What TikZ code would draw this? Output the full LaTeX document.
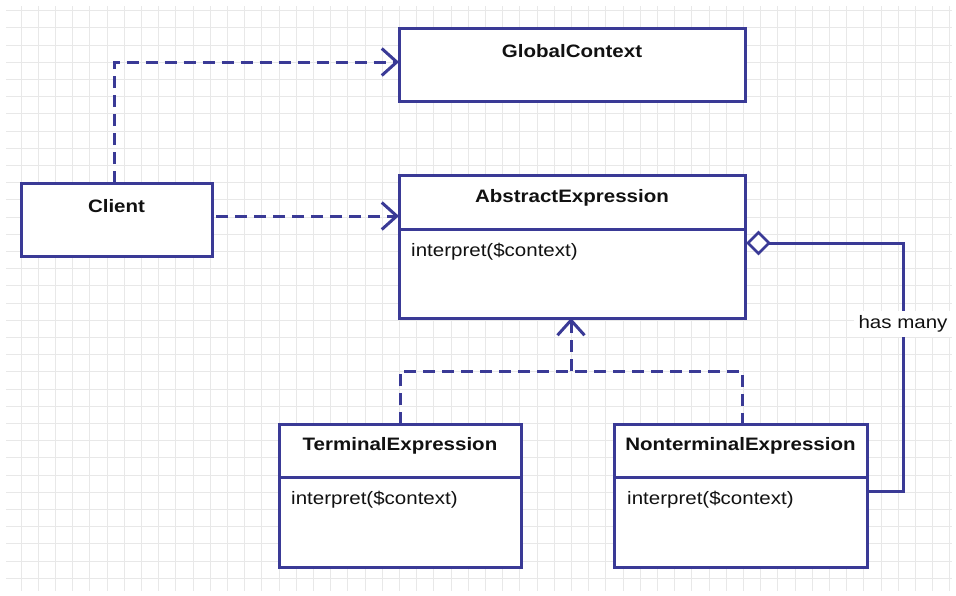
\documentclass[tikz,border=0pt]{standalone}
\usepackage{fontspec}
\setmainfont{Liberation Sans}[FakeStretch=1.14]
\usetikzlibrary{arrows.meta,shapes.geometric}
\definecolor{umlblue}{HTML}{3A3A96}
\definecolor{gridgray}{HTML}{E8E8E8}
\definecolor{txt}{HTML}{111111}
\tikzset{
  umlbox/.style={draw=umlblue, line width=3pt, fill=white, rectangle, outer sep=0pt, inner sep=0pt},
  boxline/.style={draw=umlblue, line width=3pt},
  titletext/.style={font=\fontsize{18}{21}\selectfont\bfseries, text=txt, inner sep=0pt},
  optext/.style={font=\fontsize{18}{21}\selectfont, text=txt, inner sep=0pt, anchor=west},
  dep/.style={draw=umlblue, line width=3pt, dash pattern=on 12pt off 7pt},
  openarrow/.style={-{Straight Barb[length=15pt,width=27pt]}},
  lbl/.style={font=\fontsize{18}{21}\selectfont, text=txt, fill=white, inner sep=5pt},
}
\begin{document}
\begin{tikzpicture}[x=1pt,y=-1pt]
\useasboundingbox (0,0) rectangle (956,595);
\fill[white] (0,0) rectangle (956,595);
% grid
\foreach \i in {0,...,55} {
  \pgfmathsetmacro{\gx}{3.8+17.2*\i}
  \ifdim\gx pt>5pt \ifdim\gx pt<952pt
    \draw[gridgray, line width=1pt] (\gx,6) -- (\gx,591);
  \fi\fi
}
\foreach \i in {0,...,34} {
  \pgfmathsetmacro{\gy}{10.6+17.2*\i}
  \ifdim\gy pt<591pt
    \draw[gridgray, line width=1pt] (6,\gy) -- (952,\gy);
  \fi
}
% boxes
\node[umlbox, minimum width=346pt, minimum height=73pt] (gc) at (572,64.5) {};
\node[umlbox, minimum width=191pt, minimum height=73pt] (cl) at (116.5,219.5) {};
\node[umlbox, minimum width=346pt, minimum height=143pt] (ae) at (572,246.5) {};
\node[umlbox, minimum width=242pt, minimum height=143pt] (te) at (400,495.5) {};
\node[umlbox, minimum width=253pt, minimum height=143pt] (nt) at (740.5,495.5) {};
% titles
\node[titletext] (gct) at ([yshift=-23pt]gc.north) {GlobalContext};
\node[titletext] (clt) at ([yshift=-23pt]cl.north) {Client};
\node[titletext] (aet) at ([yshift=-23pt]ae.north) {AbstractExpression};
\node[titletext] (tet) at ([yshift=-22pt]te.north) {TerminalExpression};
\node[titletext] (ntt) at ([yshift=-22pt]nt.north) {NonterminalExpression};
% dividers
\draw[boxline] ([yshift=-54pt]ae.north west) -- ([yshift=-54pt]ae.north east);
\draw[boxline] ([yshift=-53pt]te.north west) -- ([yshift=-53pt]te.north east);
\draw[boxline] ([yshift=-53pt]nt.north west) -- ([yshift=-53pt]nt.north east);
% operations
\node[optext] (aeo) at ([xshift=12pt,yshift=-77pt]ae.north west) {interpret(\$context)};
\node[optext] (teo) at ([xshift=12pt,yshift=-76pt]te.north west) {interpret(\$context)};
\node[optext] (nto) at ([xshift=13pt,yshift=-76pt]nt.north west) {interpret(\$context)};
% dependencies
\coordinate (c0) at ([xshift=-2pt]cl.north);
\coordinate (c0b) at ([yshift=2.5pt]gc.west);
\draw[dep, openarrow] (c0) |- (c0b);
\coordinate (c1) at ([xshift=4pt,yshift=3.5pt]cl.east);
\draw[dep, openarrow] (c1) -- (c1 -| ae.west);
% realization
\coordinate (j) at (571,371);
\draw[dep] (te.north) -- (te.north |- j) -- ([xshift=1.5pt]nt.north |- j) -- ([xshift=1.5pt]nt.north);
\draw[dep, openarrow] (j) -- (j |- ae.south);
% aggregation
\node[diamond, draw=umlblue, line width=2.5pt, fill=white, minimum width=21pt, minimum height=21pt, inner sep=0pt, outer sep=0pt] (dm) at (758.5,243) {};
\coordinate (r1) at (903,243);
\coordinate (r2) at (903,491);
\draw[boxline] (dm.east) -- (r1) -- (r2) -- (r2 -| nt.east);
\node[lbl] (hm) at (903,324) {has many};
\end{tikzpicture}
\end{document}
